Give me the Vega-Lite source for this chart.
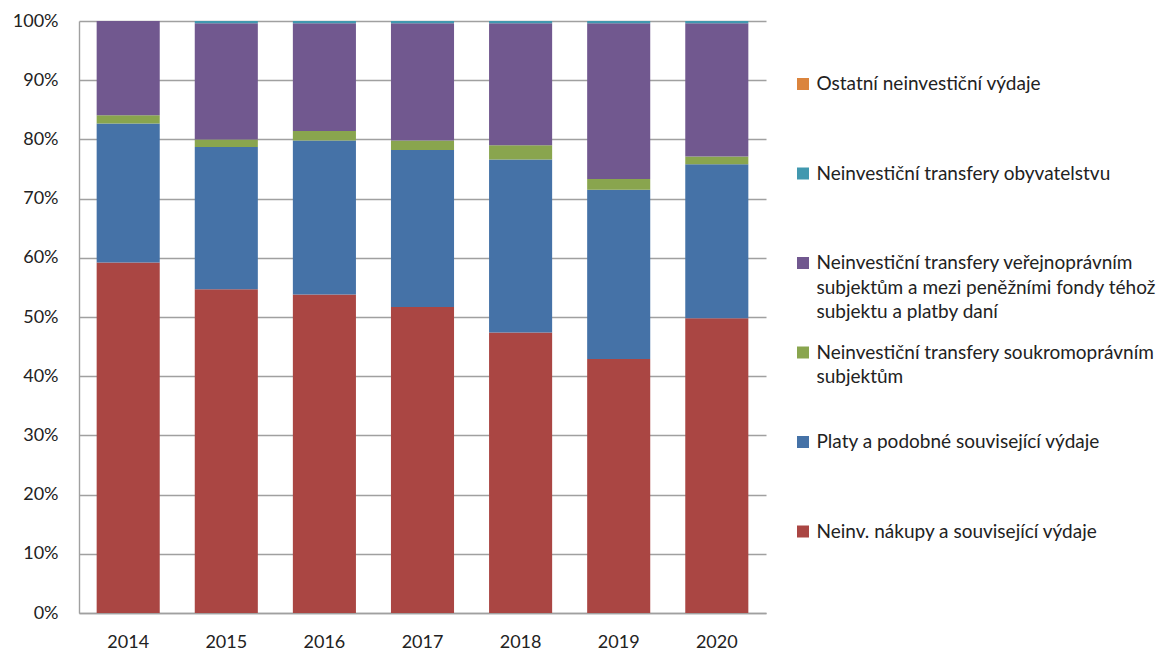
{
  "$schema": "https://vega.github.io/schema/vega-lite/v6.json",
  "width": 687,
  "height": 592,
  "autosize": "none",
  "padding": {"left": 79, "top": 21, "right": 402, "bottom": 37},
  "background": "white",
  "config": {"font": "Lato", "view": {"stroke": null}},
  "data": {"values": [
    {"rok": "2014", "kategorie": "Neinv. nákupy a související výdaje", "podil": 59.2},
    {"rok": "2014", "kategorie": "Platy a podobné související výdaje", "podil": 23.5},
    {"rok": "2014", "kategorie": "Neinvestiční transfery soukromoprávním subjektům", "podil": 1.4},
    {"rok": "2014", "kategorie": "Neinvestiční transfery veřejnoprávním subjektům a mezi peněžními fondy téhož subjektu a platby daní", "podil": 15.9},
    {"rok": "2014", "kategorie": "Neinvestiční transfery obyvatelstvu", "podil": 0},
    {"rok": "2014", "kategorie": "Ostatní neinvestiční výdaje", "podil": 0},
    {"rok": "2015", "kategorie": "Neinv. nákupy a související výdaje", "podil": 54.7},
    {"rok": "2015", "kategorie": "Platy a podobné související výdaje", "podil": 24.0},
    {"rok": "2015", "kategorie": "Neinvestiční transfery soukromoprávním subjektům", "podil": 1.3},
    {"rok": "2015", "kategorie": "Neinvestiční transfery veřejnoprávním subjektům a mezi peněžními fondy téhož subjektu a platby daní", "podil": 19.6},
    {"rok": "2015", "kategorie": "Neinvestiční transfery obyvatelstvu", "podil": 0.4},
    {"rok": "2015", "kategorie": "Ostatní neinvestiční výdaje", "podil": 0},
    {"rok": "2016", "kategorie": "Neinv. nákupy a související výdaje", "podil": 53.8},
    {"rok": "2016", "kategorie": "Platy a podobné související výdaje", "podil": 26.0},
    {"rok": "2016", "kategorie": "Neinvestiční transfery soukromoprávním subjektům", "podil": 1.6},
    {"rok": "2016", "kategorie": "Neinvestiční transfery veřejnoprávním subjektům a mezi peněžními fondy téhož subjektu a platby daní", "podil": 18.2},
    {"rok": "2016", "kategorie": "Neinvestiční transfery obyvatelstvu", "podil": 0.4},
    {"rok": "2016", "kategorie": "Ostatní neinvestiční výdaje", "podil": 0},
    {"rok": "2017", "kategorie": "Neinv. nákupy a související výdaje", "podil": 51.7},
    {"rok": "2017", "kategorie": "Platy a podobné související výdaje", "podil": 26.5},
    {"rok": "2017", "kategorie": "Neinvestiční transfery soukromoprávním subjektům", "podil": 1.6},
    {"rok": "2017", "kategorie": "Neinvestiční transfery veřejnoprávním subjektům a mezi peněžními fondy téhož subjektu a platby daní", "podil": 19.8},
    {"rok": "2017", "kategorie": "Neinvestiční transfery obyvatelstvu", "podil": 0.4},
    {"rok": "2017", "kategorie": "Ostatní neinvestiční výdaje", "podil": 0},
    {"rok": "2018", "kategorie": "Neinv. nákupy a související výdaje", "podil": 47.4},
    {"rok": "2018", "kategorie": "Platy a podobné související výdaje", "podil": 29.2},
    {"rok": "2018", "kategorie": "Neinvestiční transfery soukromoprávním subjektům", "podil": 2.4},
    {"rok": "2018", "kategorie": "Neinvestiční transfery veřejnoprávním subjektům a mezi peněžními fondy téhož subjektu a platby daní", "podil": 20.6},
    {"rok": "2018", "kategorie": "Neinvestiční transfery obyvatelstvu", "podil": 0.4},
    {"rok": "2018", "kategorie": "Ostatní neinvestiční výdaje", "podil": 0},
    {"rok": "2019", "kategorie": "Neinv. nákupy a související výdaje", "podil": 42.9},
    {"rok": "2019", "kategorie": "Platy a podobné související výdaje", "podil": 28.6},
    {"rok": "2019", "kategorie": "Neinvestiční transfery soukromoprávním subjektům", "podil": 1.8},
    {"rok": "2019", "kategorie": "Neinvestiční transfery veřejnoprávním subjektům a mezi peněžními fondy téhož subjektu a platby daní", "podil": 26.3},
    {"rok": "2019", "kategorie": "Neinvestiční transfery obyvatelstvu", "podil": 0.4},
    {"rok": "2019", "kategorie": "Ostatní neinvestiční výdaje", "podil": 0},
    {"rok": "2020", "kategorie": "Neinv. nákupy a související výdaje", "podil": 49.8},
    {"rok": "2020", "kategorie": "Platy a podobné související výdaje", "podil": 26.0},
    {"rok": "2020", "kategorie": "Neinvestiční transfery soukromoprávním subjektům", "podil": 1.3},
    {"rok": "2020", "kategorie": "Neinvestiční transfery veřejnoprávním subjektům a mezi peněžními fondy téhož subjektu a platby daní", "podil": 22.5},
    {"rok": "2020", "kategorie": "Neinvestiční transfery obyvatelstvu", "podil": 0.4},
    {"rok": "2020", "kategorie": "Ostatní neinvestiční výdaje", "podil": 0}
  ]},
  "transform": [
    {"calculate": "indexof(['Neinv. nákupy a související výdaje', 'Platy a podobné související výdaje', 'Neinvestiční transfery soukromoprávním subjektům', 'Neinvestiční transfery veřejnoprávním subjektům a mezi peněžními fondy téhož subjektu a platby daní', 'Neinvestiční transfery obyvatelstvu', 'Ostatní neinvestiční výdaje'], datum.kategorie)", "as": "poradi"}
  ],
  "mark": {"type": "bar"},
  "encoding": {
    "x": {
      "field": "rok", "type": "ordinal", "title": null,
      "scale": {"paddingInner": 0.357, "paddingOuter": 0.18},
      "axis": {"labelAngle": 0, "ticks": false, "grid": false, "domainColor": "#a0a0a0", "domainWidth": 1.4, "labelFontSize": 18, "labelColor": "#222222", "labelPadding": 20}
    },
    "y": {
      "field": "podil", "type": "quantitative", "stack": "normalize", "title": null,
      "scale": {"domain": [0, 1], "nice": false},
      "axis": {"format": ".0%", "values": [0, 0.1, 0.2, 0.3, 0.4, 0.5, 0.6, 0.7, 0.8, 0.9, 1], "ticks": false, "grid": true, "gridColor": "#a0a0a0", "gridWidth": 1.4, "domainColor": "#a0a0a0", "domainWidth": 1.4, "labelFontSize": 18, "labelColor": "#222222", "labelPadding": 21}
    },
    "order": {"field": "poradi", "type": "quantitative", "sort": "ascending"},
    "color": {
      "field": "kategorie", "type": "nominal",
      "scale": {
        "domain": ["Neinv. nákupy a související výdaje", "Platy a podobné související výdaje", "Neinvestiční transfery soukromoprávním subjektům", "Neinvestiční transfery veřejnoprávním subjektům a mezi peněžními fondy téhož subjektu a platby daní", "Neinvestiční transfery obyvatelstvu", "Ostatní neinvestiční výdaje"],
        "range": ["#AA4643", "#4572A7", "#89A54E", "#71588F", "#4198AF", "#DB843D"]
      },
      "legend": {
        "orient": "none", "legendX": 714.5, "legendY": 53.5, "title": null, "padding": 0,
        "values": ["Ostatní neinvestiční výdaje", "Neinvestiční transfery obyvatelstvu", "Neinvestiční transfery veřejnoprávním subjektům a mezi peněžními fondy téhož subjektu a platby daní", "Neinvestiční transfery soukromoprávním subjektům", "Platy a podobné související výdaje", "Neinv. nákupy a související výdaje"],
        "symbolType": "square", "symbolSize": 144, "symbolStrokeWidth": 0, "symbolOpacity": 1,
        "labelFontSize": 19, "labelColor": "#222222", "labelLimit": 400, "labelOffset": 4,
        "labelBaseline": "alphabetic", "rowPadding": 20.5,
        "labelExpr": "datum.label == 'Neinvestiční transfery veřejnoprávním subjektům a mezi peněžními fondy téhož subjektu a platby daní' ? ['Neinvestiční transfery veřejnoprávním', 'subjektům a mezi peněžními fondy téhož', 'subjektu a platby daní'] : datum.label == 'Neinvestiční transfery soukromoprávním subjektům' ? ['Neinvestiční transfery soukromoprávním', 'subjektům', ''] : [datum.label, '', '']",
        "encode": {"labels": {"update": {"dy": {"value": 6}, "lineHeight": {"value": 24.5}}}}
      }
    }
  }
}
